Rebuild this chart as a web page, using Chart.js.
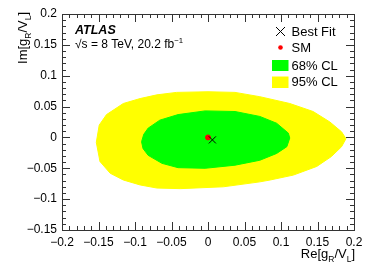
<!DOCTYPE html>
<html>
<head>
<meta charset="utf-8">
<script src="https://cdn.jsdelivr.net/npm/chart.js@4.4.0/dist/chart.umd.min.js"></script>
<style>
body { margin: 0; background: #fff; }
#caixa { width: 374px; height: 276px; }
</style>
</head>
<body>
<div id="caixa"><canvas id="grafico" width="374" height="276"></canvas></div>
<script>
// contorno 95% CL (amarelo)
const cl95Re = [-0.153, -0.149, -0.139, -0.116, -0.093, -0.070, -0.043, 0.000, 0.037, 0.071, 0.112, 0.144, 0.167, 0.183, 0.189,
                0.183, 0.169, 0.149, 0.117, 0.085, 0.071, 0.021, -0.038, -0.070, -0.093, -0.116, -0.134, -0.148]
const cl95Im = [-0.008, 0.020, 0.037, 0.055, 0.063, 0.069, 0.073, 0.074, 0.073, 0.066, 0.055, 0.042, 0.025, 0.009, -0.002,
                -0.015, -0.031, -0.047, -0.061, -0.069, -0.072, -0.080, -0.083, -0.082, -0.077, -0.069, -0.058, -0.039]

// contorno 68% CL (verde)
const cl68Re = [-0.091, -0.088, -0.082, -0.066, -0.041, -0.004, 0.037, 0.071, 0.094, 0.110, 0.112,
                0.108, 0.094, 0.071, 0.037, -0.004, -0.041, -0.063, -0.082, -0.089]
const cl68Im = [-0.007, 0.005, 0.015, 0.028, 0.037, 0.043, 0.042, 0.034, 0.023, 0.007, -0.001,
                -0.015, -0.026, -0.037, -0.045, -0.050, -0.049, -0.042, -0.029, -0.018]

const bestFitRe = [0.006]
const bestFitIm = [-0.004]
const smRe = [0]
const smIm = [0]

const ticksRe = [-0.2, -0.15, -0.1, -0.05, 0, 0.05, 0.1, 0.15, 0.2]
const ticksIm = [-0.15, -0.1, -0.05, 0, 0.05, 0.1, 0.15, 0.2]

const fonte = '"Liberation Sans", Arial, sans-serif'

function pontos(re, im, fechar) {
    let lista = re.map((x, i) => ({ x: x, y: im[i] }))
    if (fechar) lista.push(lista[0])
    return lista
}

function formata(v) {
    let r = Math.round(v * 100) / 100
    return r < 0 ? '\u2212' + String(-r) : String(r)
}

// texto com indices (sub / sup)
function textoRico(ctx, partes, x, y, tamanho, alinha) {
    let larguras = partes.map(p => {
        ctx.font = (p[1] ? tamanho * 0.65 : tamanho) + 'px ' + fonte
        return ctx.measureText(p[0]).width
    })
    let total = larguras.reduce((a, b) => a + b, 0)
    let cx = alinha === 'right' ? x - total : x
    partes.forEach((p, i) => {
        ctx.font = (p[1] ? tamanho * 0.65 : tamanho) + 'px ' + fonte
        let dy = p[1] === 'sub' ? tamanho * 0.3 : (p[1] === 'sup' ? -tamanho * 0.4 : 0)
        ctx.fillText(p[0], cx, y + dy)
        cx += larguras[i]
    })
}

const moldura = {
    id: 'moldura',
    afterDraw(chart) {
        const ctx = chart.ctx
        const a = chart.chartArea
        const sx = chart.scales.x
        const sy = chart.scales.y
        ctx.save()
        ctx.strokeStyle = '#333'
        ctx.lineWidth = 1
        ctx.strokeRect(Math.round(a.left) + 0.5, Math.round(a.top) + 0.5, Math.round(a.right - a.left), Math.round(a.bottom - a.top))

        ctx.beginPath()
        for (let i = -20; i <= 20; i++) {
            let len = i % 5 === 0 ? 8 : 4
            let px = Math.round(sx.getPixelForValue(i / 100)) + 0.5
            ctx.moveTo(px, a.bottom); ctx.lineTo(px, a.bottom - len)
            ctx.moveTo(px, a.top); ctx.lineTo(px, a.top + len)
        }
        for (let i = -15; i <= 20; i++) {
            let len = i % 5 === 0 ? 8 : 4
            let py = Math.round(sy.getPixelForValue(i / 100)) + 0.5
            ctx.moveTo(a.left, py); ctx.lineTo(a.left + len, py)
            ctx.moveTo(a.right, py); ctx.lineTo(a.right - len, py)
        }
        ctx.stroke()

        // textos
        ctx.fillStyle = '#000'
        ctx.textBaseline = 'alphabetic'
        ctx.textAlign = 'left'
        ctx.font = 'italic bold 12.5px ' + fonte
        ctx.fillText('ATLAS', 75, 33.5)
        textoRico(ctx, [['\u221As = 8 TeV, 20.2 fb', ''], ['\u22121', 'sup']], 75, 47.7, 12, 'left')

        // legenda
        ctx.beginPath()
        ctx.strokeStyle = '#000'
        ctx.moveTo(276, 27); ctx.lineTo(285, 36)
        ctx.moveTo(285, 27); ctx.lineTo(276, 36)
        ctx.stroke()
        ctx.fillStyle = '#ff0000'
        ctx.beginPath()
        ctx.arc(280.5, 47.5, 2.3, 0, Math.PI * 2)
        ctx.fill()
        ctx.fillStyle = '#00ff00'
        ctx.fillRect(272, 60, 16.5, 11)
        ctx.fillStyle = '#ffff00'
        ctx.fillRect(272, 76.5, 16.5, 11.5)
        ctx.fillStyle = '#000'
        ctx.font = '13px ' + fonte
        ctx.fillText('Best Fit', 291.5, 35.5)
        ctx.fillText('SM', 291.5, 52)
        ctx.fillText('68% CL', 291.5, 69.5)
        ctx.fillText('95% CL', 291.5, 86)

        // titulos dos eixos
        textoRico(ctx, [['Re[g', ''], ['R', 'sub'], ['/V', ''], ['L', 'sub'], [']', '']], 355, 258, 13, 'right')
        ctx.translate(27, 12)
        ctx.rotate(-Math.PI / 2)
        textoRico(ctx, [['Im[g', ''], ['R', 'sub'], ['/V', ''], ['L', 'sub'], [']', '']], 0, 0, 13, 'right')
        ctx.restore()
    }
}

const grafico = new Chart(document.getElementById('grafico'), {
    type: 'scatter',
    data: {
        datasets: [{
            label: '95% CL',
            data: pontos(cl95Re, cl95Im, true),
            showLine: true,
            fill: 'shape',
            backgroundColor: '#ffff00',
            borderColor: '#ffff00',
            borderWidth: 1,
            pointRadius: 0,
            order: 4
        }, {
            label: '68% CL',
            data: pontos(cl68Re, cl68Im, true),
            showLine: true,
            fill: 'shape',
            backgroundColor: '#00ff00',
            borderColor: '#00ff00',
            borderWidth: 1,
            pointRadius: 0,
            order: 3
        }, {
            label: 'SM',
            data: pontos(smRe, smIm, false),
            pointStyle: 'circle',
            pointRadius: 2.5,
            backgroundColor: '#ff0000',
            borderColor: '#ff0000',
            order: 2
        }, {
            label: 'Best Fit',
            data: pontos(bestFitRe, bestFitIm, false),
            pointStyle: 'crossRot',
            pointRadius: 5,
            borderWidth: 1,
            borderColor: '#000',
            order: 1
        }]
    },
    options: {
        responsive: false,
        animation: false,
        layout: { padding: { top: 14, right: 20, left: 0, bottom: 0 } },
        plugins: {
            legend: { display: false },
            tooltip: { enabled: false }
        },
        scales: {
            x: {
                type: 'linear',
                min: -0.2,
                max: 0.2,
                afterBuildTicks: eixo => { eixo.ticks = ticksRe.map(v => ({ value: v })) },
                afterFit: eixo => { eixo.height = 46 },
                grid: { display: false, drawTicks: false },
                border: { display: false },
                ticks: {
                    padding: 5,
                    autoSkip: false,
                    maxRotation: 0,
                    color: '#000',
                    font: { family: fonte, size: 12 },
                    callback: v => formata(v)
                }
            },
            y: {
                type: 'linear',
                min: -0.15,
                max: 0.2,
                afterBuildTicks: eixo => { eixo.ticks = ticksIm.map(v => ({ value: v })) },
                afterFit: eixo => { eixo.width = 62 },
                grid: { display: false, drawTicks: false },
                border: { display: false },
                ticks: {
                    padding: 5,
                    autoSkip: false,
                    color: '#000',
                    font: { family: fonte, size: 12 },
                    callback: v => formata(v)
                }
            }
        }
    },
    plugins: [moldura]
})
</script>
</body>
</html>
